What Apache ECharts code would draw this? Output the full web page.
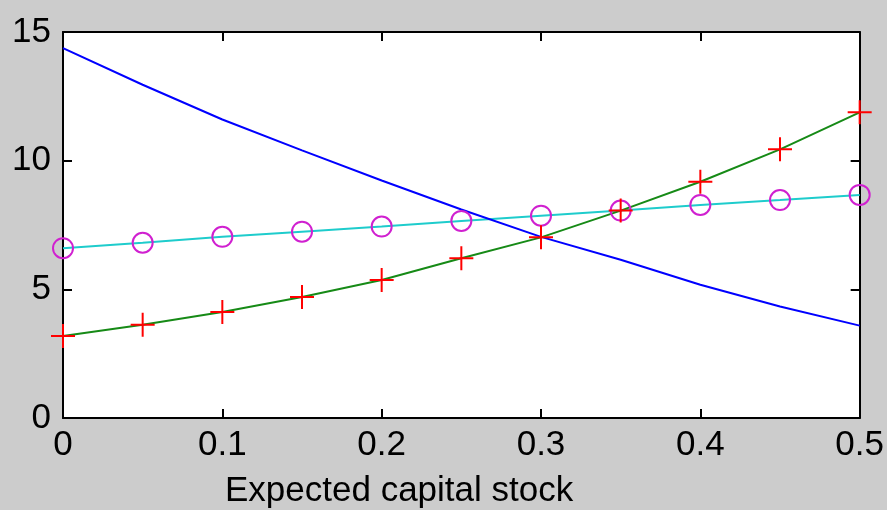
<!DOCTYPE html>
<html>
<head>
<meta charset="utf-8">
<script src="https://cdn.jsdelivr.net/npm/echarts@6/dist/echarts.min.js"></script>
<style>
html,body{margin:0;padding:0;background:#cccccc;}
#chart{width:887px;height:510px;}
</style>
</head>
<body>
<div id="chart"></div>
<script>
var xValues = [0, 0.05, 0.1, 0.15, 0.2, 0.25, 0.3, 0.35, 0.4, 0.45, 0.5];
var blueValues = [14.37, 12.95, 11.6, 10.4, 9.23, 8.1, 7.04, 6.15, 5.18, 4.33, 3.59];
var cyanValues = [6.6, 6.81, 7.04, 7.24, 7.44, 7.66, 7.86, 8.06, 8.28, 8.47, 8.67];
var greenValues = [3.19, 3.62, 4.12, 4.7, 5.36, 6.21, 7.02, 8.06, 9.18, 10.44, 11.88];
var xTickLabels = ['0', '0.1', '0.2', '0.3', '0.4', '0.5'];
var yTickLabels = ['0', '5', '10', '15'];
var xAxisTitle = 'Expected capital stock';

function pairs(ys) { return xValues.map(function (x, i) { return [x, ys[i]]; }); }

var FONT = "'Liberation Sans Narrow','Arial Narrow','Liberation Sans',Arial,sans-serif";
var labelStyle = { color: '#000', fontSize: 35, fontFamily: FONT };

var chart = echarts.init(document.getElementById('chart'), null, { renderer: 'canvas' });
chart.setOption({
  animation: false,
  backgroundColor: '#cccccc',
  title: {
    text: xAxisTitle,
    left: 220,
    top: 469,
    textStyle: { color: '#000', fontSize: 35, fontWeight: 'normal', fontFamily: FONT }
  },
  grid: { left: 63, top: 32, width: 800, height: 386, show: true, backgroundColor: '#ffffff', borderWidth: 0 },
  xAxis: [{
    type: 'value', min: 0, max: 0.5, interval: 0.1, position: 'bottom',
    axisLine: { show: true, onZero: false, lineStyle: { color: '#000', width: 2 } },
    axisTick: { show: true, inside: true, length: 9, lineStyle: { color: '#000', width: 2 } },
    axisLabel: Object.assign({ margin: 10, formatter: function (v) { return xTickLabels[Math.round(v * 10)]; } }, labelStyle),
    splitLine: { show: false }
  }, {
    type: 'value', min: 0, max: 0.5, interval: 0.1, position: 'top',
    axisLine: { show: true, onZero: false, lineStyle: { color: '#000', width: 2 } },
    axisTick: { show: true, inside: true, length: 9, lineStyle: { color: '#000', width: 2 } },
    axisLabel: { show: false }, splitLine: { show: false }
  }],
  yAxis: [{
    type: 'value', min: 0, max: 15, interval: 5, position: 'left',
    axisLine: { show: true, onZero: false, lineStyle: { color: '#000', width: 2 } },
    axisTick: { show: true, inside: true, length: 9, lineStyle: { color: '#000', width: 2 } },
    axisLabel: Object.assign({ margin: 12, formatter: function (v) { return yTickLabels[Math.round(v / 5)]; } }, labelStyle),
    splitLine: { show: false }
  }, {
    type: 'value', min: 0, max: 15, interval: 5, position: 'right',
    axisLine: { show: true, onZero: false, lineStyle: { color: '#000', width: 2 } },
    axisTick: { show: true, inside: true, length: 9, lineStyle: { color: '#000', width: 2 } },
    axisLabel: { show: false }, splitLine: { show: false }
  }],
  series: [
    { type: 'line', data: pairs(cyanValues), showSymbol: false, symbol: 'none', z: 2,
      lineStyle: { color: '#1ecccc', width: 2 } },
    { type: 'line', data: pairs(blueValues), showSymbol: false, symbol: 'none', z: 3,
      lineStyle: { color: '#0000ff', width: 2 } },
    { type: 'line', data: pairs(greenValues), showSymbol: false, symbol: 'none', z: 4,
      lineStyle: { color: '#168a16', width: 2 } },
    { type: 'scatter', data: pairs(cyanValues), symbol: 'circle', symbolSize: 20, z: 5,
      itemStyle: { color: 'rgba(0,0,0,0)', borderColor: '#d020d0', borderWidth: 2, opacity: 1 } },
    { type: 'scatter', data: pairs(greenValues), symbol: 'path://M0,-1L0,1M-1,0L1,0', symbolSize: 24, z: 6,
      itemStyle: { color: 'rgba(0,0,0,0)', borderColor: '#ff0000', borderWidth: 2, opacity: 1 } }
  ]
});
</script>
</body>
</html>
